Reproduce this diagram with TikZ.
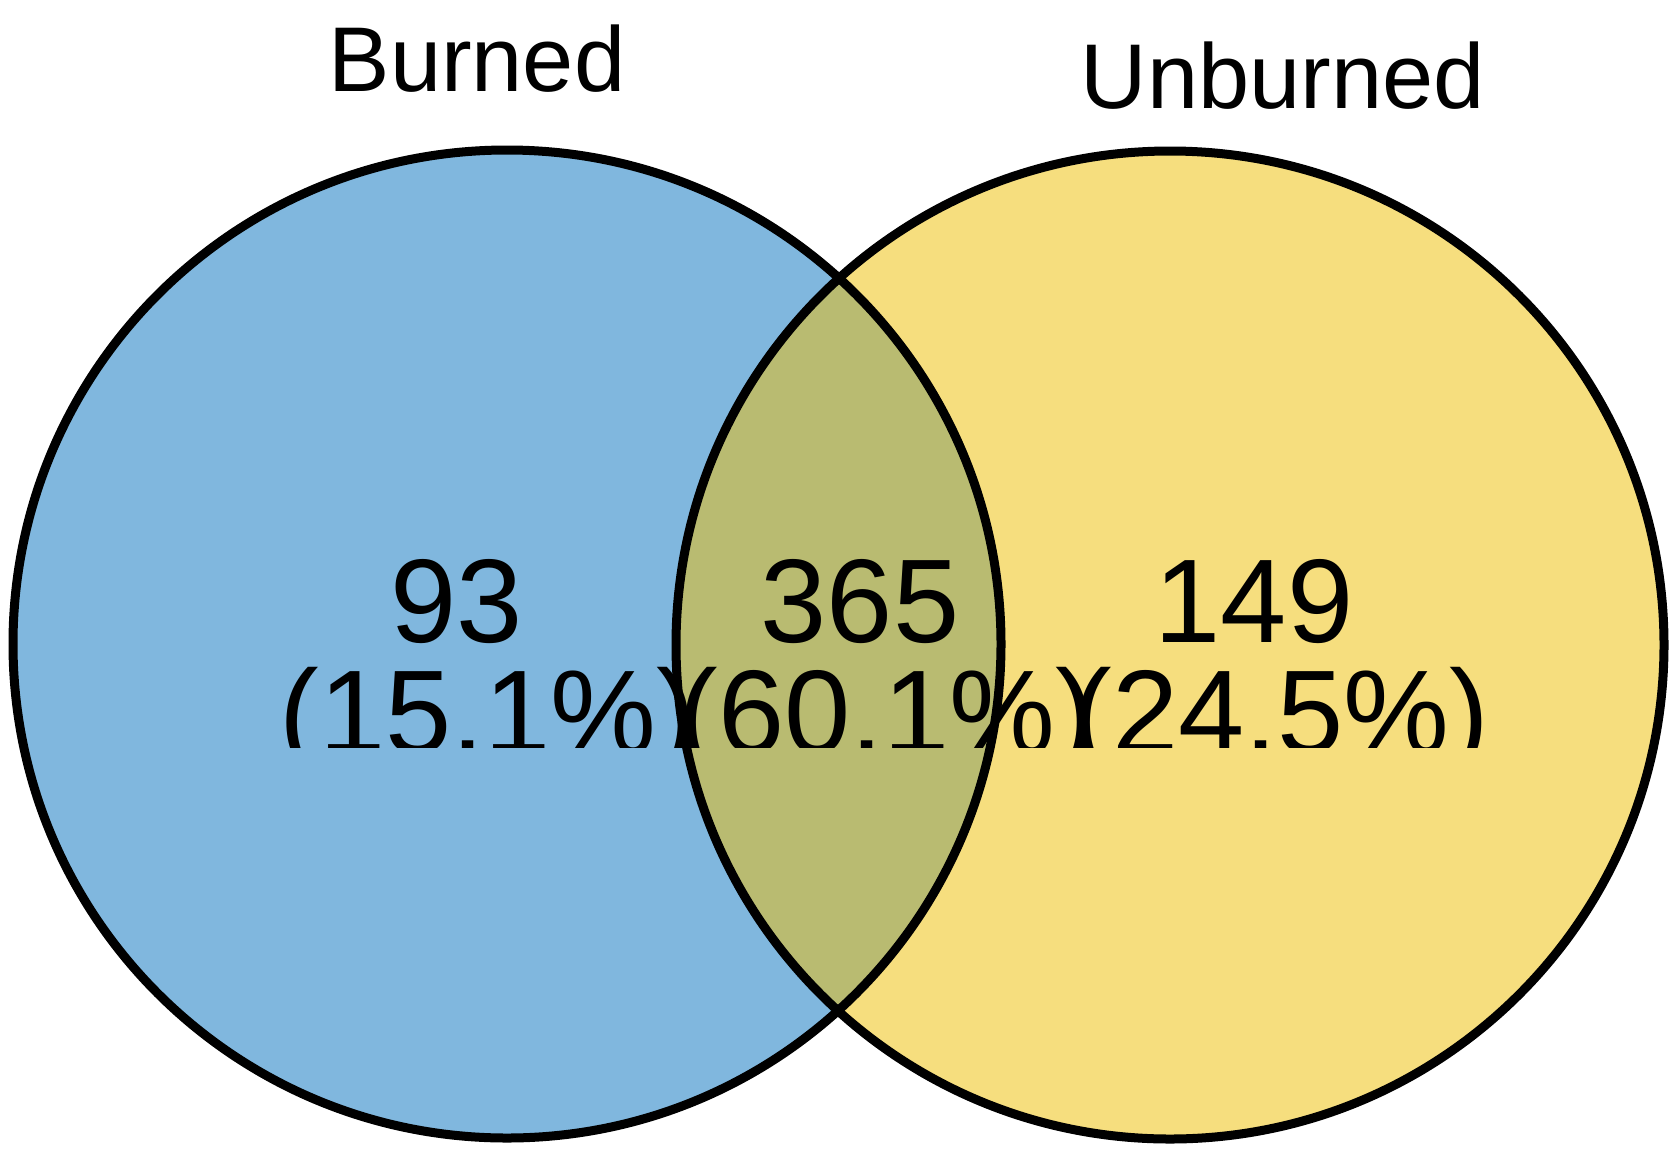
\documentclass[tikz,border=0pt]{standalone}
\usepackage{fontspec}
\setmainfont{Liberation Sans}
\definecolor{burnblue}{RGB}{128,183,222}
\definecolor{unbyellow}{RGB}{246,222,126}
\definecolor{overlapolive}{RGB}{185,187,113}
\begin{document}
\begin{tikzpicture}[x=1pt,y=-1pt,
  setlabel/.style={font=\fontsize{92}{92}\selectfont, inner sep=0pt, anchor=base},
  countlabel/.style={font=\fontsize{119}{119}\selectfont, inner sep=0pt, anchor=base},
  ring/.style={draw=black, line width=9pt}]
\useasboundingbox (0,0) rectangle (1680,1157);
% fills
\fill[burnblue] (507,644) circle[radius=494pt];
\fill[unbyellow] (1170,645) circle[radius=494pt];
\begin{scope}
  \clip (507,644) circle[radius=494pt];
  \fill[overlapolive] (1170,645) circle[radius=494pt];
\end{scope}
% outlines
\draw[ring] (507,644) circle[radius=494pt];
\draw[ring] (1170,645) circle[radius=494pt];
% set labels
\node[setlabel] (burned) at (477,91) {Burned};
\node[setlabel] (unburned) at (1283,108) {Unburned};
% counts
\node[countlabel] (n1) at (457,642) {93};
\node[countlabel] (n12) at (860,642) {365};
\node[countlabel] (n2) at (1254,642) {149};
% percentages (clipped at the bottom as in the reference)
\begin{scope}
  \clip (0,0) rectangle (1680,747);
  \node[countlabel] (p1) at (488,753) {(15.1\%)};
  \node[countlabel] (p12) at (887,753) {(60.1\%)};
  \node[countlabel] (p2) at (1281,753) {(24.5\%)};
\end{scope}
\end{tikzpicture}
\end{document}
